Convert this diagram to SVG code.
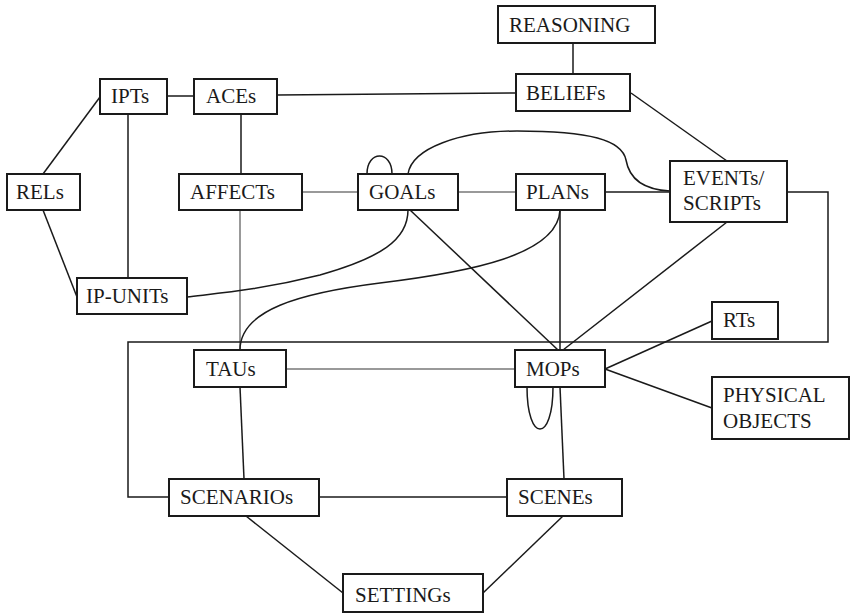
<svg xmlns="http://www.w3.org/2000/svg" width="851" height="614" viewBox="0 0 851 614">
<style>
.box{fill:#fff;stroke:#1a1a1a;stroke-width:2}
.t{font-family:"Liberation Serif","Times New Roman",serif;font-size:21px;fill:#1a1a1a}
.c{fill:none;stroke:#1a1a1a;stroke-width:1.5}
.g{fill:none;stroke:#777;stroke-width:1.5}
</style>
<rect width="851" height="614" fill="#fff"/>
<g id="connectors">
<line class="c" x1="167" y1="96" x2="194" y2="96"/>
<line class="c" x1="277" y1="95" x2="516" y2="93"/>
<line class="c" x1="573" y1="43" x2="573" y2="74"/>
<line class="c" x1="631" y1="93" x2="727" y2="161"/>
<line class="c" x1="43" y1="174" x2="100" y2="97"/>
<line class="c" x1="43" y1="210" x2="77" y2="297"/>
<line class="c" x1="128" y1="114" x2="128" y2="278"/>
<line class="c" x1="241" y1="114" x2="241" y2="174"/>
<line class="g" x1="302" y1="192" x2="358" y2="192"/>
<line class="g" x1="458" y1="192" x2="516" y2="192"/>
<line class="c" x1="605" y1="192" x2="670" y2="192"/>
<line class="g" x1="240" y1="210" x2="240" y2="350"/>
<path class="c" d="M367,174 C367,150 392,150 392,174"/>
<path class="c" d="M408,174 C412,148 460,131 517,131 C590,131 622,140 626,160 C630,183 650,190 670,191"/>
<path class="c" d="M408,210 C408,240 380,258 320,275 C260,290 220,293 187,297"/>
<path class="c" d="M560,210 C558,255 470,272 380,283 C300,293 240,310 240,350"/>
<line class="c" x1="410" y1="210" x2="558" y2="350"/>
<line class="c" x1="560" y1="210" x2="560" y2="350"/>
<line class="c" x1="727" y1="222" x2="563" y2="350"/>
<path class="c" d="M787,192 H828 V342 H128 V497 H169"/>
<line class="c" x1="605" y1="369" x2="712" y2="321"/>
<line class="c" x1="605" y1="369" x2="712" y2="408"/>
<line class="g" x1="286" y1="369" x2="515" y2="369"/>
<path class="c" d="M527,387 C527,443 553,443 553,387"/>
<line class="c" x1="560" y1="387" x2="564" y2="479"/>
<line class="c" x1="240" y1="387" x2="244" y2="479"/>
<line class="c" x1="319" y1="497" x2="507" y2="497"/>
<line class="c" x1="246" y1="516" x2="343" y2="593"/>
<line class="c" x1="563" y1="516" x2="483" y2="593"/>
</g>
<g id="reasoning"><rect class="box" x="498" y="6" width="157" height="37"/><text class="t" x="509" y="32">REASONING</text></g>
<g id="beliefs"><rect class="box" x="516" y="74" width="114" height="37"/><text class="t" x="526" y="100">BELIEFs</text></g>
<g id="ipts"><rect class="box" x="100" y="79" width="67" height="35"/><text class="t" x="111" y="103">IPTs</text></g>
<g id="aces"><rect class="box" x="194" y="79" width="83" height="35"/><text class="t" x="206" y="103">ACEs</text></g>
<g id="rels"><rect class="box" x="7" y="174" width="73" height="36"/><text class="t" x="16" y="199">RELs</text></g>
<g id="affects"><rect class="box" x="179" y="174" width="123" height="36"/><text class="t" x="190" y="199">AFFECTs</text></g>
<g id="goals"><rect class="box" x="358" y="174" width="100" height="36"/><text class="t" x="369" y="199">GOALs</text></g>
<g id="plans"><rect class="box" x="516" y="174" width="89" height="36"/><text class="t" x="526" y="199">PLANs</text></g>
<g id="events"><rect class="box" x="670" y="161" width="117" height="61"/><text class="t" x="683" y="185">EVENTs/</text><text class="t" x="683" y="210">SCRIPTs</text></g>
<g id="ipunits"><rect class="box" x="77" y="278" width="110" height="36"/><text class="t" x="86" y="303">IP-UNITs</text></g>
<g id="rts"><rect class="box" x="712" y="302" width="66" height="37"/><text class="t" x="723" y="327">RTs</text></g>
<g id="taus"><rect class="box" x="194" y="350" width="92" height="37"/><text class="t" x="206" y="376">TAUs</text></g>
<g id="mops"><rect class="box" x="515" y="350" width="90" height="37"/><text class="t" x="526" y="376">MOPs</text></g>
<g id="physical"><rect class="box" x="712" y="377" width="137" height="62"/><text class="t" x="723" y="402">PHYSICAL</text><text class="t" x="723" y="428">OBJECTS</text></g>
<g id="scenarios"><rect class="box" x="169" y="479" width="150" height="37"/><text class="t" x="180" y="504">SCENARIOs</text></g>
<g id="scenes"><rect class="box" x="507" y="479" width="115" height="37"/><text class="t" x="518" y="504">SCENEs</text></g>
<g id="settings"><rect class="box" x="343" y="574" width="140" height="38"/><text class="t" x="355" y="602">SETTINGs</text></g>
</svg>
